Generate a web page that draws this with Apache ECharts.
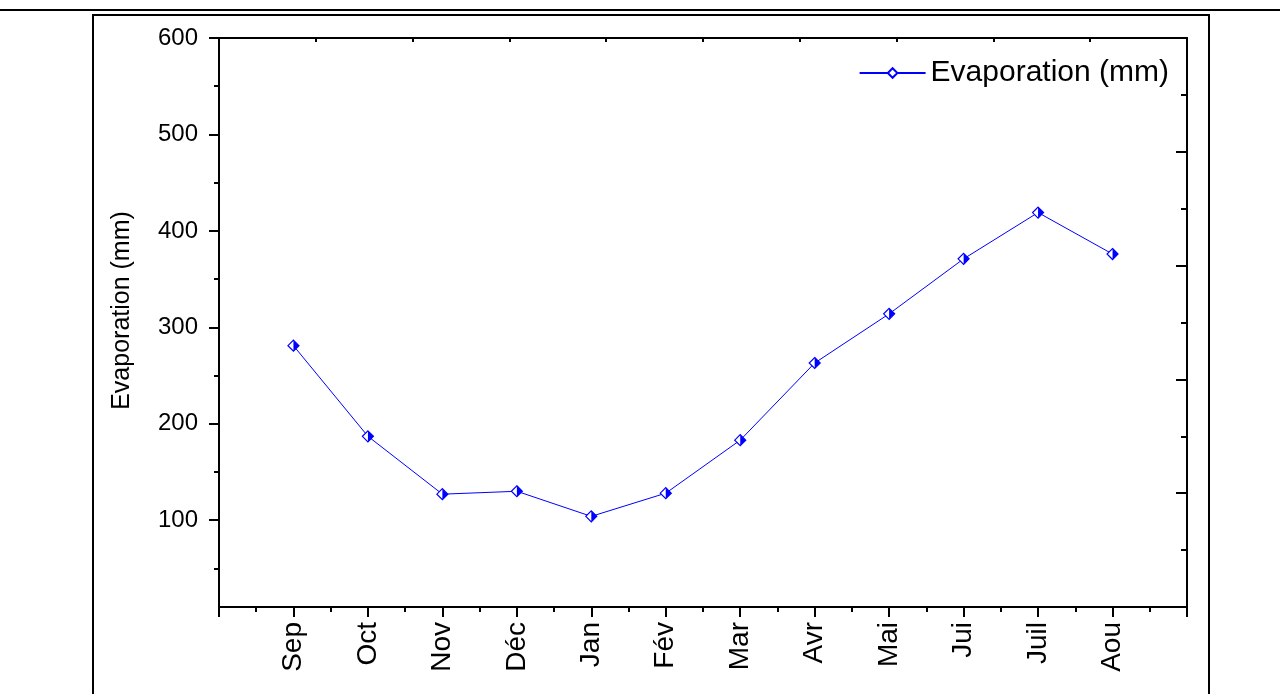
<!DOCTYPE html>
<html>
<head>
<meta charset="utf-8">
<title>Evaporation</title>
<script src="https://cdn.jsdelivr.net/npm/echarts@6/dist/echarts.min.js"></script>
<style>
    html, body { margin: 0; padding: 0; background: #fff; }
    #main { width: 1280px; height: 694px; }
</style>
</head>
<body>
<div id="main"></div>
<script>
// mois (position 1..12 sur l'axe x)
const months = ['Sep', 'Oct', 'Nov', 'Déc', 'Jan', 'Fév', 'Mar', 'Avr', 'Mai', 'Jui', 'Juil', 'Aou'];
// évaporation mensuelle (mm)
const evaporation = [281, 187, 127, 130, 104, 128, 183, 263, 314, 371, 419, 376];
// graduations de l'axe y
const yMajorTicks = [100, 200, 300, 400, 500, 600];
const yMinorTicks = [50, 150, 250, 350, 450, 550];

const chart = echarts.init(document.getElementById('main'));

const points = months.map(function (m, i) { return [i + 1, evaporation[i]]; });
const font = '"Liberation Sans", Arial, sans-serif';
const blue = '#0000ff';
const black = { color: '#000', width: 2 };
const gridBox = { left: 219, right: 93, top: 38, bottom: 87, containLabel: false };

const option = {
    animation: false,
    backgroundColor: '#fff',
    textStyle: { fontFamily: font },
    // deux grilles superposées : la 2e porte seulement les petites graduations de gauche
    grid: [Object.assign({}, gridBox), Object.assign({}, gridBox)],
    legend: {
        data: ['Evaporation (mm)'],
        right: 106,
        top: 53,
        itemWidth: 66,
        itemHeight: 12,
        textStyle: { fontSize: 30, color: '#000', fontFamily: font },
    },
    xAxis: [
        {
            type: 'value',
            gridIndex: 0,
            min: 0,
            max: 13,
            interval: 1,
            position: 'bottom',
            axisLine: { onZero: false, lineStyle: black },
            axisTick: { length: 10, lineStyle: black },
            minorTick: { show: true, splitNumber: 2, length: 5, lineStyle: black },
            splitLine: { show: false },
            axisLabel: {
                rotate: 90,
                margin: 15,
                fontSize: 28,
                color: '#000',
                formatter: function (v) { return months[v - 1] || ''; },
            },
        },
        {
            // axe du haut (miroir)
            type: 'value',
            gridIndex: 0,
            min: 0,
            max: 10,
            interval: 1,
            position: 'top',
            axisLine: { onZero: false, lineStyle: black },
            axisTick: { inside: true, length: 4, lineStyle: black },
            axisLabel: { show: false },
            splitLine: { show: false },
        },
        {
            type: 'value',
            gridIndex: 1,
            min: 0,
            max: 13,
            show: false,
        },
    ],
    yAxis: [
        {
            type: 'value',
            gridIndex: 0,
            min: 10,
            max: 600,
            position: 'left',
            name: 'Evaporation (mm)',
            nameLocation: 'middle',
            nameGap: 84,
            nameTextStyle: { fontSize: 25, color: '#000', fontFamily: font, padding: [0, 0, 0, 24] },
            axisLine: { show: true, onZero: false, lineStyle: black },
            axisTick: { show: true, length: 10, customValues: yMajorTicks, lineStyle: black },
            axisLabel: { margin: 21, fontSize: 24, color: '#000', customValues: yMajorTicks },
            splitLine: { show: false },
        },
        {
            // axe de droite (miroir, autre échelle)
            type: 'value',
            gridIndex: 0,
            min: 0,
            max: 5,
            interval: 1,
            position: 'right',
            axisLine: { show: true, onZero: false, lineStyle: black },
            axisTick: { show: true, inside: true, length: 11, lineStyle: black },
            minorTick: { show: true, splitNumber: 2, length: 6, lineStyle: black },
            axisLabel: { show: false },
            splitLine: { show: false },
        },
        {
            // petites graduations de gauche
            type: 'value',
            gridIndex: 1,
            min: 10,
            max: 600,
            position: 'left',
            axisLine: { show: false, onZero: false },
            axisTick: { show: true, length: 5, customValues: yMinorTicks, lineStyle: black },
            axisLabel: { show: false },
            splitLine: { show: false },
        },
    ],
    series: [
        {
            name: 'Evaporation (mm)',
            type: 'line',
            xAxisIndex: 0,
            yAxisIndex: 0,
            data: points,
            symbol: 'diamond',
            symbolSize: 11,
            lineStyle: { color: blue, width: 1 },
            itemStyle: { color: '#fff', borderColor: blue, borderWidth: 1.2 },
            z: 3,
        },
        {
            // moitié droite pleine du losange
            name: 'demi',
            type: 'scatter',
            xAxisIndex: 0,
            yAxisIndex: 0,
            data: points,
            symbol: 'path://M0,0 L10,10 L0,20 Z',
            symbolSize: [5.5, 11],
            symbolOffset: [2.75, 0],
            itemStyle: { color: blue, opacity: 1 },
            silent: true,
            z: 4,
        },
    ],
    graphic: [
        // cadre autour du graphique
        { type: 'line', shape: { x1: 0, y1: 10, x2: 1280, y2: 10 }, style: { stroke: '#000', lineWidth: 2 } },
        { type: 'rect', shape: { x: 93, y: 15, width: 1116, height: 700 }, style: { stroke: '#000', fill: null, lineWidth: 2 } },
    ],
};

chart.setOption(option);
</script>
</body>
</html>
